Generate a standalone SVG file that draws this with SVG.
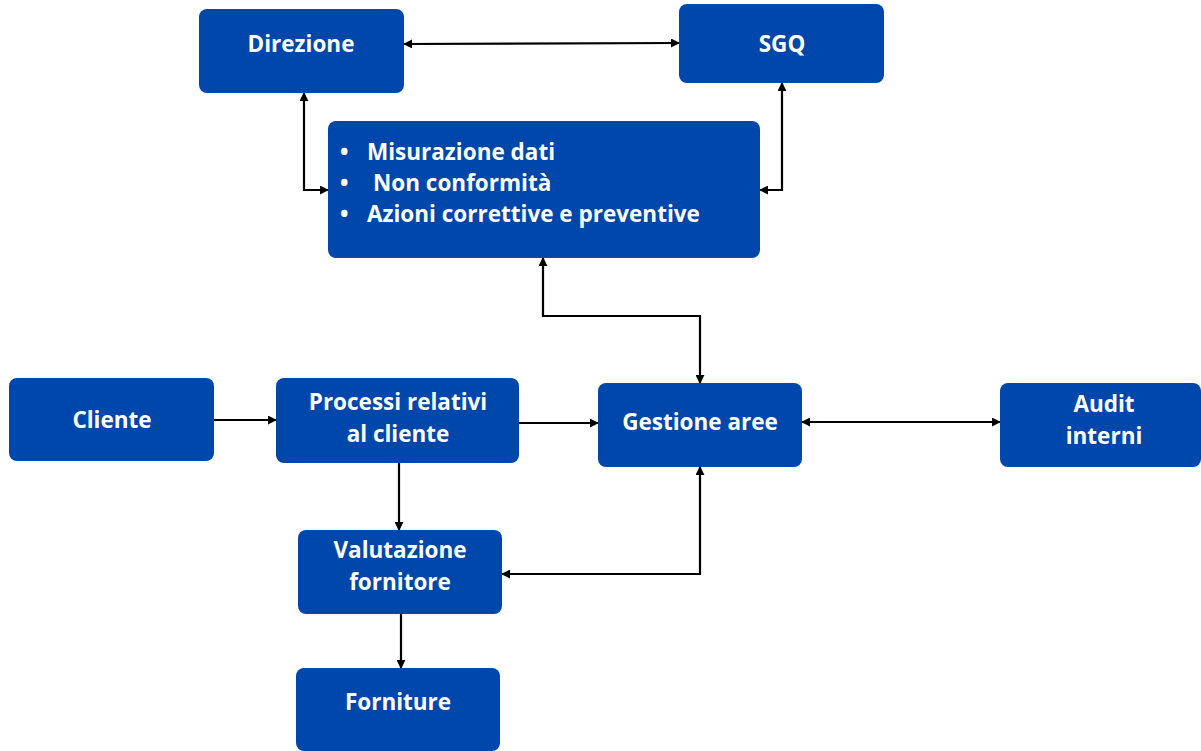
<svg xmlns="http://www.w3.org/2000/svg" width="1201" height="751" viewBox="0 0 1201 751">
<defs>
<marker id="ah" viewBox="0 0 10 10" refX="9" refY="5" markerWidth="9" markerHeight="9" markerUnits="userSpaceOnUse" orient="auto-start-reverse">
<path d="M0,0 L10,5 L0,10 z" fill="#000"/>
</marker>
<style>
.box{fill:#0047ab;}
.t{font-family:"Open Sans","Noto Sans","Liberation Sans",sans-serif;font-weight:bold;font-size:22.5px;fill:#fff;text-anchor:middle;}
.l{font-family:"Open Sans","Noto Sans","Liberation Sans",sans-serif;font-weight:bold;font-size:22.5px;fill:#fff;}
.c{fill:none;stroke:#000;stroke-width:2.2;}
</style>
</defs>
<rect width="1201" height="751" fill="#fff"/>
<g id="connectors">
<path class="c" d="M404,44 L679,43" marker-start="url(#ah)" marker-end="url(#ah)"/>
<path class="c" d="M304,93 L304,190 L328,190" marker-start="url(#ah)" marker-end="url(#ah)"/>
<path class="c" d="M782,83 L782,190 L760,190" marker-start="url(#ah)" marker-end="url(#ah)"/>
<path class="c" d="M543,258 L543,316 L700,316 L700,383" marker-start="url(#ah)" marker-end="url(#ah)"/>
<path class="c" d="M214,420 L276,420" marker-end="url(#ah)"/>
<path class="c" d="M519,423 L598,423" marker-end="url(#ah)"/>
<path class="c" d="M802,422 L1000,422" marker-start="url(#ah)" marker-end="url(#ah)"/>
<path class="c" d="M399,463 L399,530" marker-end="url(#ah)"/>
<path class="c" d="M700,467 L700,574 L502,574" marker-start="url(#ah)" marker-end="url(#ah)"/>
<path class="c" d="M401,614 L401,668" marker-end="url(#ah)"/>
</g>
<g id="direzione">
<rect class="box" x="199" y="9" width="205" height="84" rx="8"/>
<text class="t" x="301" y="52">Direzione</text>
</g>
<g id="sgq">
<rect class="box" x="679" y="4" width="205" height="79" rx="8"/>
<text class="t" x="782" y="52">SGQ</text>
</g>
<g id="misurazione">
<rect class="box" x="328" y="121" width="432" height="137" rx="8"/>
<text class="l" x="340" y="160">•</text>
<text class="l" x="367" y="160">Misurazione dati</text>
<text class="l" x="340" y="191">•</text>
<text class="l" x="373" y="191">Non conformità</text>
<text class="l" x="340" y="222">•</text>
<text class="l" x="367" y="222">Azioni correttive e preventive</text>
</g>
<g id="cliente">
<rect class="box" x="9" y="378" width="205" height="83" rx="8"/>
<text class="t" x="112" y="428">Cliente</text>
</g>
<g id="processi">
<rect class="box" x="276" y="378" width="243" height="85" rx="8"/>
<text class="t" x="398" y="410">Processi relativi</text>
<text class="t" x="398" y="442">al cliente</text>
</g>
<g id="gestione">
<rect class="box" x="598" y="383" width="204" height="84" rx="8"/>
<text class="t" x="700" y="430">Gestione aree</text>
</g>
<g id="audit">
<rect class="box" x="1000" y="383" width="201" height="84" rx="8"/>
<text class="t" x="1104" y="412">Audit</text>
<text class="t" x="1104" y="444">interni</text>
</g>
<g id="valutazione">
<rect class="box" x="298" y="530" width="204" height="84" rx="8"/>
<text class="t" x="400" y="558">Valutazione</text>
<text class="t" x="400" y="590">fornitore</text>
</g>
<g id="forniture">
<rect class="box" x="296" y="668" width="204" height="83" rx="8"/>
<text class="t" x="398" y="710">Forniture</text>
</g>
</svg>
